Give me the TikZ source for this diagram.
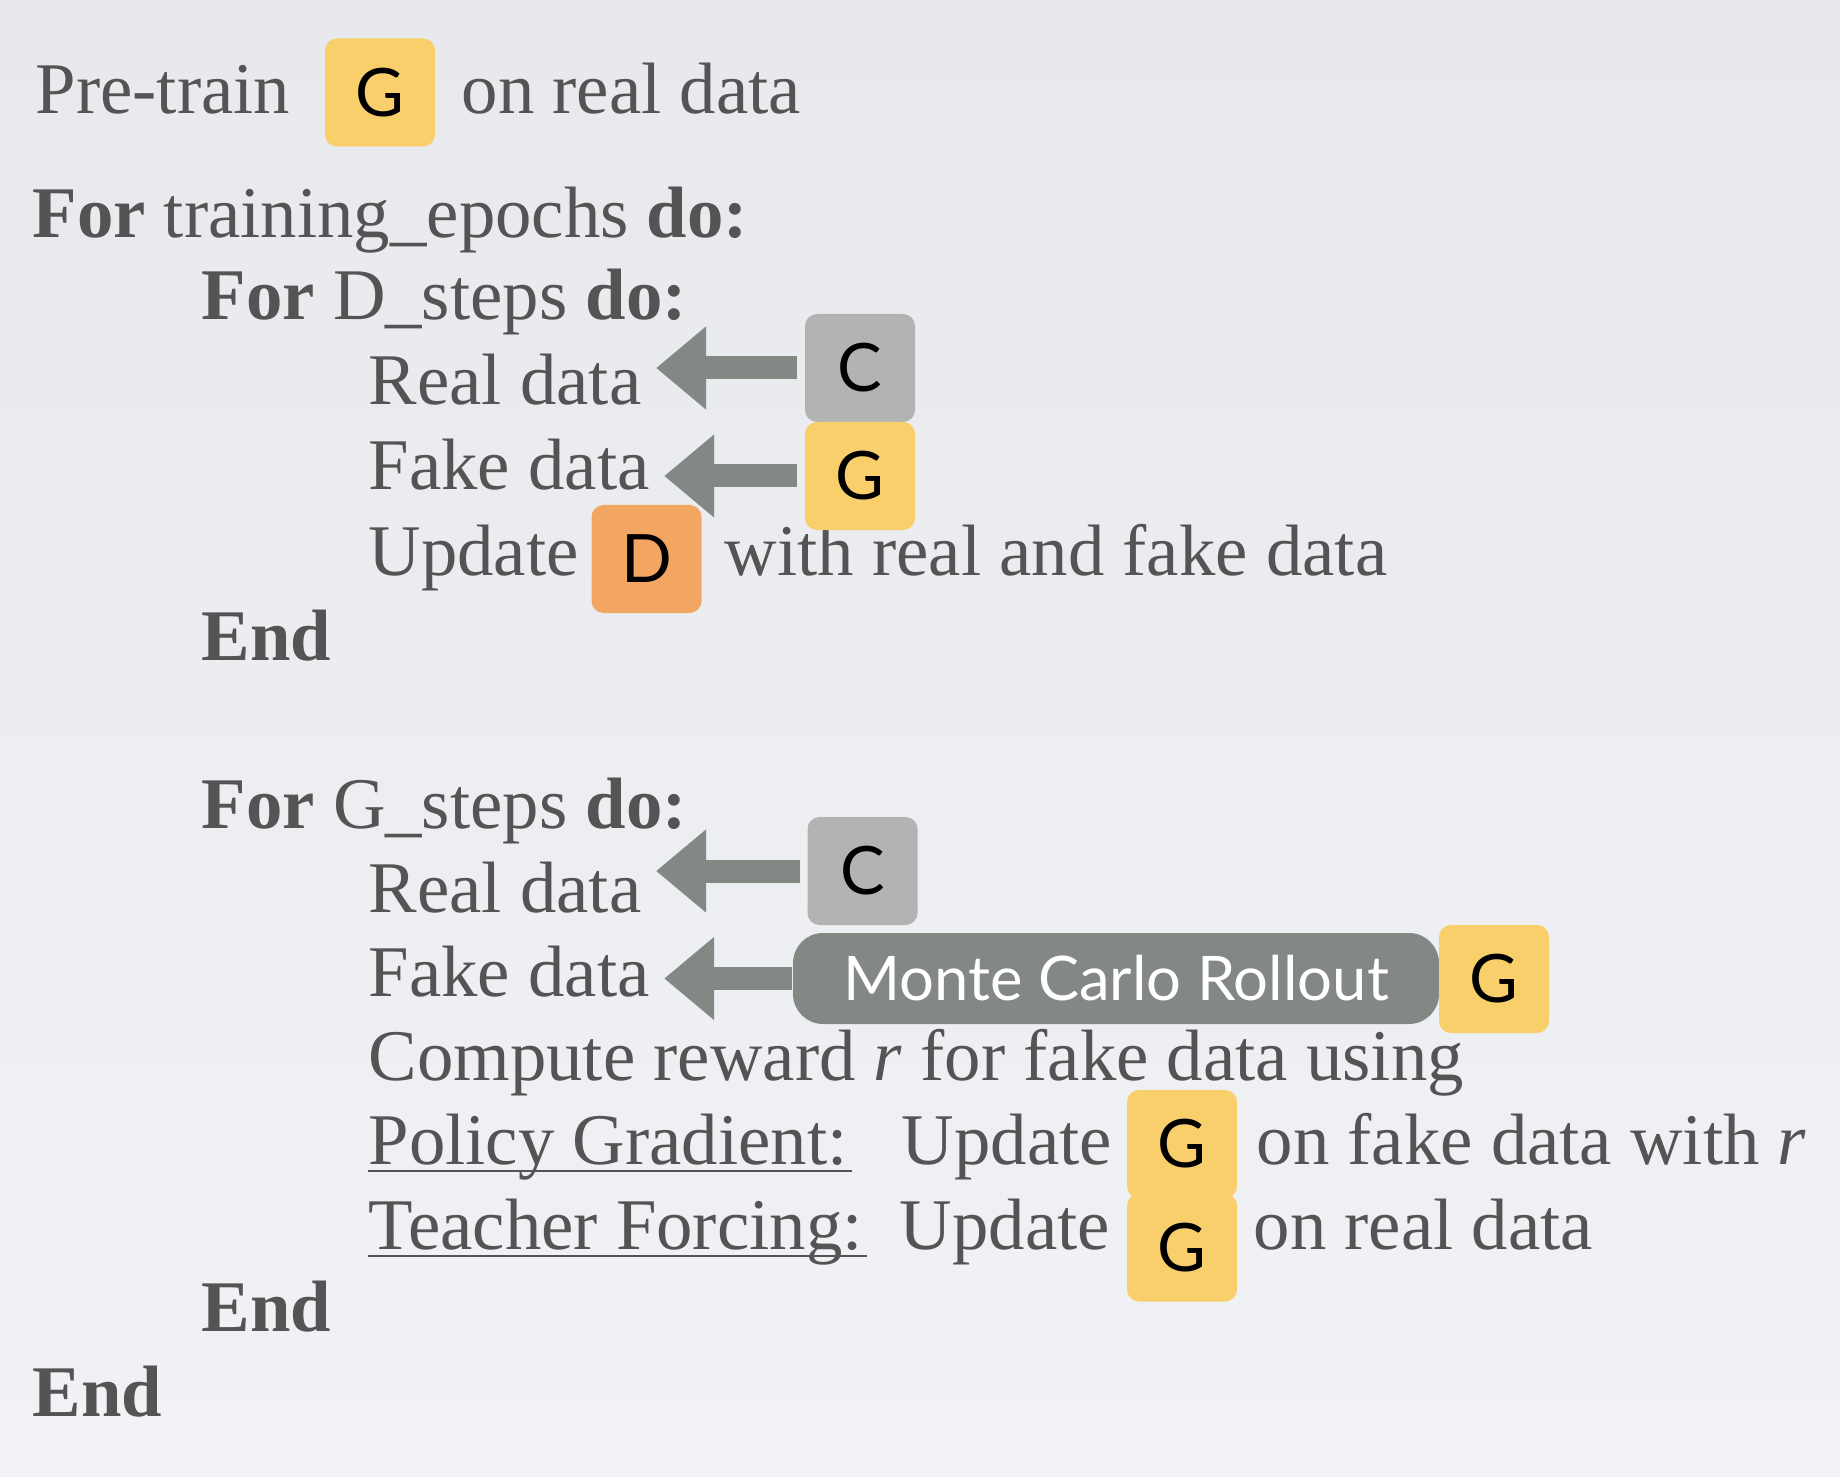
\documentclass[tikz,border=0pt]{standalone}
\usepackage{fontspec}
\setmainfont{Liberation Serif}
\newfontfamily\boxfont{Lato}
\usetikzlibrary{positioning, arrows.meta}
\definecolor{textgray}{HTML}{545454}
\definecolor{gyellow}{HTML}{F9CF6B}
\definecolor{cgray}{HTML}{B3B3B3}
\definecolor{dorange}{HTML}{F2A662}
\definecolor{arrowgray}{HTML}{838885}
\definecolor{bgtop}{HTML}{E7E9EC}
\definecolor{bgbot}{HTML}{F1F2F6}
\newcommand{\linesize}{\fontsize{20.7pt}{25pt}\selectfont}
\newcommand{\boxsize}{\fontsize{19pt}{22pt}\selectfont}
\pgfdeclarelayer{back}
\pgfdeclarelayer{bg}
\pgfsetlayers{back,bg,main}

\begin{document}
\begin{tikzpicture}[
    line/.style={anchor=base west, inner sep=0pt, text=textgray, font=\linesize},
    netbox/.style={rounded corners=0.12cm, minimum width=1.1cm, minimum height=1.08cm, inner sep=0pt, font=\boxfont\boxsize, text=black},
    uline/.style={draw=textgray, line width=0.025cm},
    pullarrow/.style={draw=arrowgray, line width=0.23cm, -{Triangle[length=0.5cm, width=0.8cm]}, shorten <=0.07cm, shorten >=0.14cm}]
    \useasboundingbox (0,0) rectangle (18.4,-14.76);
    \begin{pgfonlayer}{back}
    \shade[top color=bgtop, bottom color=bgbot] (0,0) rectangle (18.4,-14.76);
    \end{pgfonlayer}

    % Pre-training
    \node (pretrain) at (0.35,-1.14) [line] {Pre-train};
    \node (g0) at (3.80,-0.925) [netbox, fill=gyellow] {G};
    \node (pretrainon) at (4.61,-1.14) [line] {on real data};

    % D steps
    \node (epochs) at (0.32,-2.38) [line] {\textbf{For} training\_epochs \textbf{do:}};
    \node (dsteps) at (2.01,-3.20) [line] {\textbf{For} D\_steps \textbf{do:}};
    \node (dreal) at (3.68,-4.05) [line] {Real data};
    \node (dfake) at (3.68,-4.90) [line] {Fake data};
    \node (dupd) at (3.68,-5.75) [line] {Update};
    \node (dwith) at (7.24,-5.75) [line] {with real and fake data};
    \node (dend) at (2.01,-6.60) [line] {\textbf{End}};
    \node (c1) at (8.60,-3.68) [netbox, fill=cgray] {C};
    \node (g1) at (8.60,-4.76) [netbox, fill=gyellow] {G};
    \node (d1) at (6.465,-5.59) [netbox, fill=dorange] {D};

    % G steps
    \node (gsteps) at (2.01,-8.28) [line] {\textbf{For} G\_steps \textbf{do:}};
    \node (greal) at (3.68,-9.12) [line] {Real data};
    \node (gfake) at (3.68,-9.96) [line] {Fake data};
    \node (reward) at (3.68,-10.80) [line] {Compute reward \textit{r} for fake data using};
    \node (policy) at (3.68,-11.64) [line] {Policy Gradient:};
    \node (policyupd) at (9.01,-11.64) [line] {Update};
    \node (policyon) at (12.56,-11.64) [line] {on fake data with \textit{r}};
    \node (teacher) at (3.68,-12.49) [line] {Teacher Forcing:};
    \node (teacherupd) at (8.99,-12.49) [line] {Update};
    \node (teacheron) at (12.53,-12.49) [line] {on real data};
    \node (gend) at (2.01,-13.31) [line] {\textbf{End}};
    \node (allend) at (0.32,-14.16) [line] {\textbf{End}};
    \node (c2) at (8.625,-8.71) [netbox, fill=cgray] {C};
    \node (rollout) at (11.16,-9.785) [netbox, fill=arrowgray, minimum width=6.46cm, minimum height=0.91cm, rounded corners=0.3cm, text=white, font=\boxfont\fontsize{17.5pt}{20pt}\selectfont] {Monte Carlo Rollout};
    \node (g2) at (14.94,-9.79) [netbox, fill=gyellow] {G};
    \node (g3) at (11.82,-11.44) [netbox, fill=gyellow] {G};
    \node (g4) at (11.82,-12.475) [netbox, fill=gyellow] {G};

    % underlines
    \draw[uline] ([yshift=-0.07cm]policy.base west) -- ([xshift=0.04cm, yshift=-0.07cm]policy.base east);
    \draw[uline] ([yshift=-0.07cm]teacher.base west) -- ([xshift=0.04cm, yshift=-0.07cm]teacher.base east);

    % arrows behind the boxes
    \begin{pgfonlayer}{bg}
    \draw[pullarrow] (c1.west) -- (dreal.east |- c1.west);
    \draw[pullarrow] (g1.west) -- (dfake.east |- g1.west);
    \draw[pullarrow] (c2.west) -- (greal.east |- c2.west);
    \draw[pullarrow, shorten <=0pt] (rollout.west) -- (gfake.east |- rollout.west);
    \end{pgfonlayer}
\end{tikzpicture}
\end{document}
